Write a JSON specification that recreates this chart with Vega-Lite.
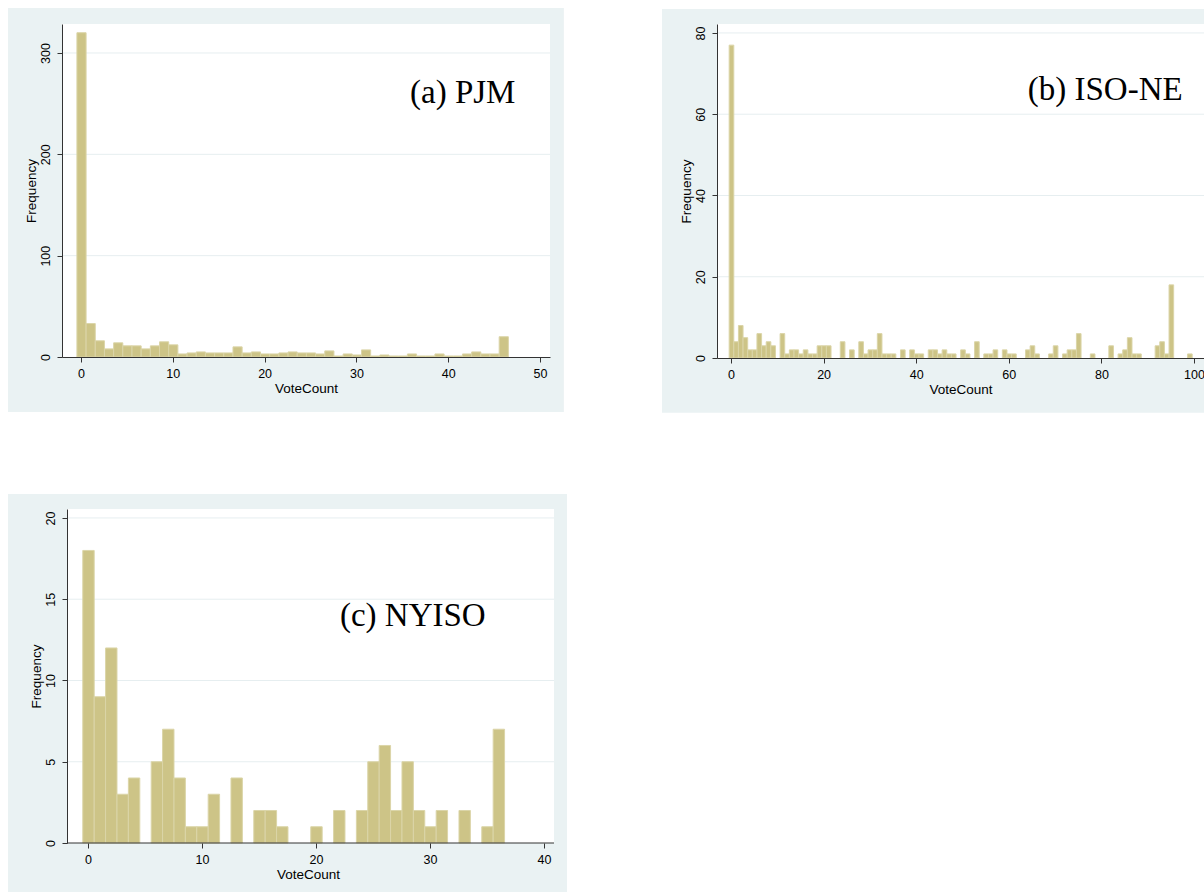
{
  "$schema": "https://vega.github.io/schema/vega-lite/v6.json",
  "background": "white",
  "padding": {"left": 7, "top": 7, "right": 0, "bottom": 0},
  "columns": 2,
  "align": "none",
  "bounds": "full",
  "spacing": {"column": 94, "row": 80},
  "datasets": {
    "pjm": [
      {"v":0,"n":320},{"v":1,"n":33},{"v":2,"n":16},{"v":3,"n":8},{"v":4,"n":14},{"v":5,"n":11},{"v":6,"n":11},{"v":7,"n":8},{"v":8,"n":11},{"v":9,"n":15},
      {"v":10,"n":12},{"v":11,"n":3},{"v":12,"n":4},{"v":13,"n":5},{"v":14,"n":4},{"v":15,"n":4},{"v":16,"n":4},{"v":17,"n":10},{"v":18,"n":4},{"v":19,"n":5},
      {"v":20,"n":3},{"v":21,"n":3},{"v":22,"n":4},{"v":23,"n":5},{"v":24,"n":4},{"v":25,"n":4},{"v":26,"n":3},{"v":27,"n":6},{"v":28,"n":1},{"v":29,"n":3},
      {"v":30,"n":2},{"v":31,"n":7},{"v":32,"n":1},{"v":33,"n":2},{"v":34,"n":1},{"v":35,"n":1},{"v":36,"n":3},{"v":37,"n":1},{"v":38,"n":1},{"v":39,"n":3},
      {"v":40,"n":1},{"v":41,"n":1},{"v":42,"n":3},{"v":43,"n":5},{"v":44,"n":3},{"v":45,"n":3},{"v":46,"n":20}
    ],
    "isone": [
      {"v":0,"n":77},{"v":1,"n":4},{"v":2,"n":8},{"v":3,"n":5},{"v":4,"n":2},{"v":5,"n":2},{"v":6,"n":6},{"v":7,"n":3},{"v":8,"n":4},{"v":9,"n":3},
      {"v":11,"n":6},{"v":12,"n":1},{"v":13,"n":2},{"v":14,"n":2},{"v":15,"n":1},{"v":16,"n":2},{"v":17,"n":1},{"v":18,"n":1},{"v":19,"n":3},
      {"v":20,"n":3},{"v":21,"n":3},{"v":24,"n":4},{"v":26,"n":2},{"v":28,"n":4},{"v":29,"n":1},
      {"v":30,"n":2},{"v":31,"n":2},{"v":32,"n":6},{"v":33,"n":1},{"v":34,"n":1},{"v":35,"n":1},{"v":37,"n":2},{"v":39,"n":2},
      {"v":40,"n":1},{"v":41,"n":1},{"v":43,"n":2},{"v":44,"n":2},{"v":45,"n":1},{"v":46,"n":2},{"v":47,"n":1},{"v":48,"n":1},
      {"v":50,"n":2},{"v":51,"n":1},{"v":53,"n":4},{"v":55,"n":1},{"v":56,"n":1},{"v":57,"n":2},{"v":59,"n":2},
      {"v":60,"n":1},{"v":61,"n":1},{"v":64,"n":2},{"v":65,"n":3},{"v":66,"n":1},{"v":69,"n":1},
      {"v":70,"n":3},{"v":72,"n":1},{"v":73,"n":2},{"v":74,"n":2},{"v":75,"n":6},{"v":78,"n":1},
      {"v":82,"n":3},{"v":84,"n":1},{"v":85,"n":2},{"v":86,"n":5},{"v":87,"n":1},{"v":88,"n":1},
      {"v":92,"n":3},{"v":93,"n":4},{"v":94,"n":1},{"v":95,"n":18},{"v":99,"n":1}
    ],
    "nyiso": [
      {"v":0,"n":18},{"v":1,"n":9},{"v":2,"n":12},{"v":3,"n":3},{"v":4,"n":4},{"v":6,"n":5},{"v":7,"n":7},{"v":8,"n":4},{"v":9,"n":1},
      {"v":10,"n":1},{"v":11,"n":3},{"v":13,"n":4},{"v":15,"n":2},{"v":16,"n":2},{"v":17,"n":1},
      {"v":20,"n":1},{"v":22,"n":2},{"v":24,"n":2},{"v":25,"n":5},{"v":26,"n":6},{"v":27,"n":2},{"v":28,"n":5},{"v":29,"n":2},
      {"v":30,"n":1},{"v":31,"n":2},{"v":33,"n":2},{"v":35,"n":1},{"v":36,"n":7}
    ]
  },
  "concat": [
    {
      "width": 488,
      "height": 333,
      "layer": [
        {
          "data": {"values": [{}]},
          "mark": {"type": "rect", "color": "#eaf2f3"},
          "encoding": {
            "x": {"datum": -7.95}, "x2": {"datum": 52.6},
            "y": {"datum": -54.3}, "y2": {"datum": 344.4}
          }
        },
        {
          "data": {"values": [{}]},
          "mark": {"type": "rect", "color": "white"},
          "encoding": {
            "x": {"datum": -2.07}, "x2": {"datum": 51.09},
            "y": {"datum": 0}, "y2": {"datum": 328.6}
          }
        },
        {"data": {"values": [{}]}, "mark": {"type": "rule", "color": "#e6eef0"}, "encoding": {"y": {"datum": 100}}},
        {"data": {"values": [{}]}, "mark": {"type": "rule", "color": "#e6eef0"}, "encoding": {"y": {"datum": 200}}},
        {"data": {"values": [{}]}, "mark": {"type": "rule", "color": "#e6eef0"}, "encoding": {"y": {"datum": 300}}},
        {
          "data": {"name": "pjm"},
          "mark": {"type": "bar", "color": "#cdc487", "stroke": "#dbd5a8", "strokeWidth": 1, "binSpacing": 0},
          "encoding": {
            "x": {"field": "v", "type": "quantitative", "bin": {"extent": [-0.5, 46.5], "step": 1, "nice": false},
                  "scale": {"domain": [-2.07, 51.09], "nice": false, "zero": false},
                  "axis": {"values": [0, 10, 20, 30, 40, 50], "zindex": 2}, "title": "VoteCount"},
            "y": {"field": "n", "type": "quantitative", "aggregate": "sum",
                  "scale": {"domain": [0, 328.6], "nice": false, "zero": false},
                  "axis": {"values": [0, 100, 200, 300], "zindex": 2}, "title": "Frequency"}
          }
        },
        {
          "data": {"values": [{}]},
          "mark": {"type": "text", "text": "(a) PJM", "font": "Liberation Serif", "fontSize": 33, "align": "left", "baseline": "alphabetic", "color": "black"},
          "encoding": {"x": {"datum": 35.84}, "y": {"datum": 250.7}}
        }
      ]
    },
    {
      "width": 487,
      "height": 334,
      "layer": [
        {
          "data": {"values": [{}]},
          "mark": {"type": "rect", "color": "#eaf2f3"},
          "encoding": {
            "x": {"datum": -14.9}, "x2": {"datum": 102.16},
            "y": {"datum": -13.5}, "y2": {"datum": 85.9}
          }
        },
        {
          "data": {"values": [{}]},
          "mark": {"type": "rect", "color": "white"},
          "encoding": {
            "x": {"datum": -3.02}, "x2": {"datum": 102.16},
            "y": {"datum": 0}, "y2": {"datum": 82.2}
          }
        },
        {"data": {"values": [{}]}, "mark": {"type": "rule", "color": "#e6eef0"}, "encoding": {"y": {"datum": 20}}},
        {"data": {"values": [{}]}, "mark": {"type": "rule", "color": "#e6eef0"}, "encoding": {"y": {"datum": 40}}},
        {"data": {"values": [{}]}, "mark": {"type": "rule", "color": "#e6eef0"}, "encoding": {"y": {"datum": 60}}},
        {"data": {"values": [{}]}, "mark": {"type": "rule", "color": "#e6eef0"}, "encoding": {"y": {"datum": 80}}},
        {
          "data": {"name": "isone"},
          "mark": {"type": "bar", "color": "#cdc487", "stroke": "#dbd5a8", "strokeWidth": 1, "binSpacing": 0},
          "encoding": {
            "x": {"field": "v", "type": "quantitative", "bin": {"extent": [-0.5, 99.5], "step": 1, "nice": false},
                  "scale": {"domain": [-3.02, 102.16], "nice": false, "zero": false},
                  "axis": {"values": [0, 20, 40, 60, 80, 100], "zindex": 2}, "title": "VoteCount"},
            "y": {"field": "n", "type": "quantitative", "aggregate": "sum",
                  "scale": {"domain": [0, 82.2], "nice": false, "zero": false},
                  "axis": {"values": [0, 20, 40, 60, 80], "zindex": 2}, "title": "Frequency"}
          }
        },
        {
          "data": {"values": [{}]},
          "mark": {"type": "text", "text": "(b) ISO-NE", "font": "Liberation Serif", "fontSize": 33, "align": "left", "baseline": "alphabetic", "color": "black"},
          "encoding": {"x": {"datum": 64.1}, "y": {"datum": 63.5}}
        }
      ]
    },
    {
      "width": 492,
      "height": 334,
      "layer": [
        {
          "data": {"values": [{}]},
          "mark": {"type": "rect", "color": "#eaf2f3"},
          "encoding": {
            "x": {"datum": -7.02}, "x2": {"datum": 42.02},
            "y": {"datum": -3.08}, "y2": {"datum": 21.48}
          }
        },
        {
          "data": {"values": [{}]},
          "mark": {"type": "rect", "color": "white"},
          "encoding": {
            "x": {"datum": -1.84}, "x2": {"datum": 40.88},
            "y": {"datum": 0}, "y2": {"datum": 20.55}
          }
        },
        {"data": {"values": [{}]}, "mark": {"type": "rule", "color": "#e6eef0"}, "encoding": {"y": {"datum": 5}, "x": {"datum": -1.84}, "x2": {"datum": 40.88}}},
        {"data": {"values": [{}]}, "mark": {"type": "rule", "color": "#e6eef0"}, "encoding": {"y": {"datum": 10}, "x": {"datum": -1.84}, "x2": {"datum": 40.88}}},
        {"data": {"values": [{}]}, "mark": {"type": "rule", "color": "#e6eef0"}, "encoding": {"y": {"datum": 15}, "x": {"datum": -1.84}, "x2": {"datum": 40.88}}},
        {"data": {"values": [{}]}, "mark": {"type": "rule", "color": "#e6eef0"}, "encoding": {"y": {"datum": 20}, "x": {"datum": -1.84}, "x2": {"datum": 40.88}}},
        {
          "data": {"name": "nyiso"},
          "mark": {"type": "bar", "color": "#cdc487", "stroke": "#dbd5a8", "strokeWidth": 1, "binSpacing": 0},
          "encoding": {
            "x": {"field": "v", "type": "quantitative", "bin": {"extent": [-0.5, 36.5], "step": 1, "nice": false},
                  "scale": {"domain": [-2.28, 40.88], "nice": false, "zero": false},
                  "axis": {"values": [0, 10, 20, 30, 40], "zindex": 2, "domain": false}, "title": "VoteCount"},
            "y": {"field": "n", "type": "quantitative", "aggregate": "sum",
                  "scale": {"domain": [0, 20.55], "nice": false, "zero": false},
                  "axis": {"values": [0, 5, 10, 15, 20], "zindex": 2, "offset": -5}, "title": "Frequency"}
          }
        },
        {
          "data": {"values": [{}]},
          "mark": {"type": "rule", "color": "#333333", "strokeWidth": 1},
          "encoding": {"x": {"datum": -1.84}, "x2": {"datum": 40.88}, "y": {"datum": 0}}
        },
        {
          "data": {"values": [{}]},
          "mark": {"type": "text", "text": "(c) NYISO", "font": "Liberation Serif", "fontSize": 33, "align": "left", "baseline": "alphabetic", "color": "black"},
          "encoding": {"x": {"datum": 22.1}, "y": {"datum": 13.35}}
        }
      ]
    }
  ],
  "config": {
    "view": {"stroke": null, "fill": null},
    "axis": {
      "grid": false,
      "domainColor": "#333333", "tickColor": "#333333", "tickSize": 5, "domainWidth": 1, "tickWidth": 1,
      "labelFont": "Liberation Sans", "labelFontSize": 12.5, "labelColor": "#000000",
      "titleFont": "Liberation Sans", "titleFontSize": 13.5, "titleFontWeight": "normal", "titleColor": "#000000",
      "labelFlush": false, "labelOverlap": false
    },
    "axisY": {"labelAngle": -90, "labelAlign": "center", "labelBaseline": "bottom", "labelPadding": 5, "titlePadding": 1},
    "axisX": {"labelPadding": 5, "titlePadding": 2}
  }
}
